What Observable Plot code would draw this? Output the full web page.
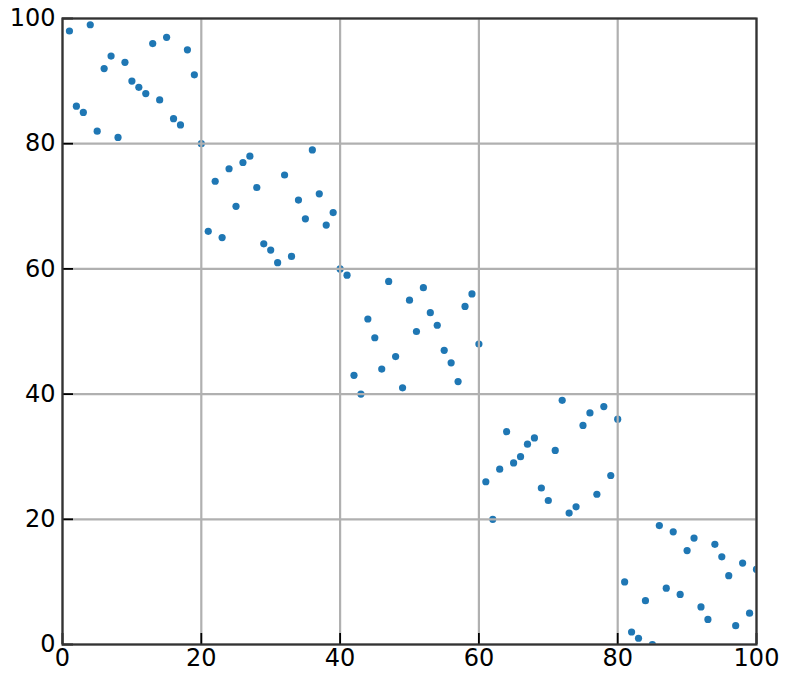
<!DOCTYPE html>
<html>
<head>
<meta charset="utf-8">
<script src="https://cdn.jsdelivr.net/npm/d3@7"></script>
<script src="https://cdn.jsdelivr.net/npm/@observablehq/plot@0.6"></script>
<style>
  html, body { margin: 0; padding: 0; background: #fff; }
</style>
</head>
<body>
<div id="chart"></div>
<script>
const xValues = [
  1,2,3,4,5,6,7,8,9,10,11,12,13,14,15,16,17,18,19,20,
  21,22,23,24,25,26,27,28,29,30,31,32,33,34,35,36,37,38,39,40,
  41,42,43,44,45,46,47,48,49,50,51,52,53,54,55,56,57,58,59,60,
  61,62,63,64,65,66,67,68,69,70,71,72,73,74,75,76,77,78,79,80,
  81,82,83,84,85,86,87,88,89,90,91,92,93,94,95,96,97,98,99,100
];
const yValues = [
  98,86,85,99,82,92,94,81,93,90,89,88,96,87,97,84,83,95,91,80,
  66,74,65,76,70,77,78,73,64,63,61,75,62,71,68,79,72,67,69,60,
  59,43,40,52,49,44,58,46,41,55,50,57,53,51,47,45,42,54,56,48,
  26,20,28,34,29,30,32,33,25,23,31,39,21,22,35,37,24,38,27,36,
  10,2,1,7,0,19,9,18,8,15,17,6,4,16,14,11,3,13,5,12
];
const xTicks = [0, 20, 40, 60, 80, 100];
const yTicks = [0, 20, 40, 60, 80, 100];

const data = xValues.map((x, i) => ({x, y: yValues[i]}));

const W = 789, H = 682;
const mL = 62, mR = 33, mT = 18, mB = 38;
const fw = W - mL - mR, fh = H - mT - mB;
const tickLen = 11;

const chart = Plot.plot({
  width: W,
  height: H,
  marginLeft: mL,
  marginRight: mR,
  marginTop: mT,
  marginBottom: mB,
  style: {fontFamily: "DejaVu Sans", fontSize: "24px", color: "#000", background: "#fff"},
  x: {domain: [0, 100], label: null},
  y: {domain: [0, 100], label: null},
  marks: [
    Plot.dot(data, {x: "x", y: "y", r: 3.6, fill: "#1f77b4", stroke: "none", clip: true}),
    Plot.gridX(xTicks, {stroke: "#b0b0b0", strokeOpacity: 1, strokeWidth: 2.2}),
    Plot.gridY(yTicks, {stroke: "#b0b0b0", strokeOpacity: 1, strokeWidth: 2.2}),
    Plot.ruleX(xTicks, {x: d => d, insetTop: fh - tickLen, stroke: "#000", strokeWidth: 1.8}),
    Plot.ruleY(yTicks, {y: d => d, insetRight: fw - tickLen, stroke: "#000", strokeWidth: 1.8}),
    Plot.frame({stroke: "#333", strokeWidth: 2.2}),
    Plot.axisX(xTicks, {tickSize: 0, tickPadding: 4, fontSize: 24, fill: "#000"}),
    Plot.axisY(yTicks, {tickSize: 0, tickPadding: 7, fontSize: 24, fill: "#000"})
  ]
});
document.getElementById("chart").appendChild(chart);
</script>
</body>
</html>
